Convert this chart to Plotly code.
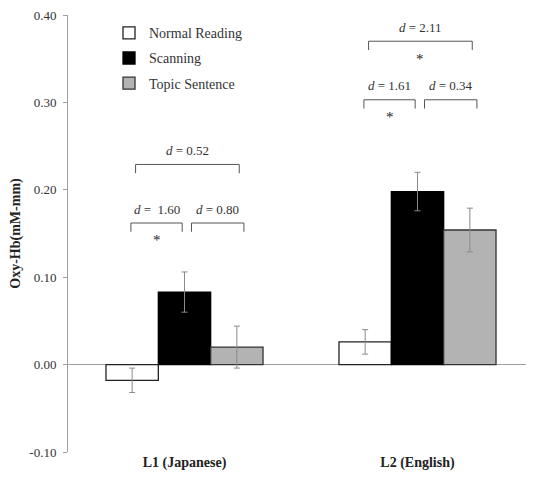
import plotly.graph_objects as go

groups = ["L1 (Japanese)", "L2 (English)"]
series = ["Normal Reading", "Scanning", "Topic Sentence"]
means = {
    "Normal Reading": [-0.018, 0.026],
    "Scanning": [0.083, 0.198],
    "Topic Sentence": [0.020, 0.154],
}
errors = {
    "Normal Reading": [0.014, 0.014],
    "Scanning": [0.023, 0.022],
    "Topic Sentence": [0.024, 0.025],
}
y_ticks = [-0.10, 0.00, 0.10, 0.20, 0.30, 0.40]
y_ticklabels = ["-0.10", "0.00", "0.10", "0.20", "0.30", "0.40"]
colors = {"Normal Reading": "white", "Scanning": "black", "Topic Sentence": "#b3b3b3"}
outlines = {"Normal Reading": "#222222", "Scanning": "black", "Topic Sentence": "#333333"}

# effect size annotations: (group index, pair, label, significant)
effects = [
    (0, "NS", "<i>d</i> =  1.60", True),
    (0, "ST", "<i>d</i> = 0.80", False),
    (0, "NT", "<i>d</i> = 0.52", False),
    (1, "NS", "<i>d</i> = 1.61", True),
    (1, "ST", "<i>d</i> = 0.34", False),
    (1, "NT", "<i>d</i> = 2.11", True),
]
bracket_levels = {(0, "NS"): 0.162, (0, "ST"): 0.162, (0, "NT"): 0.229,
                  (1, "NS"): 0.303, (1, "ST"): 0.303, (1, "NT"): 0.370}
pair_span = {"NS": (-0.23, -0.01), "ST": (0.03, 0.255), "NT": (-0.21, 0.235)}

FONT = "Liberation Serif, Times New Roman, Times, serif"
xpos = list(range(len(groups)))

fig = go.Figure()
for i, s in enumerate(series):
    fig.add_trace(go.Bar(
        name=s, x=xpos, y=means[s],
        marker=dict(color=colors[s], line=dict(color=outlines[s], width=1.3)),
        error_y=dict(type="data", array=errors[s], color="#8a8a8a", thickness=1, width=3),
        legendgroup=s,
    ))

shapes = []
annotations = []
for g, pair, label, sig in effects:
    x0, x1 = pair_span[pair]
    x0 += g
    x1 += g
    yl = bracket_levels[(g, pair)]
    drop = 0.010
    shapes.append(dict(type="path", xref="x", yref="y",
                       path=f"M {x0},{yl - drop} L {x0},{yl} L {x1},{yl} L {x1},{yl - drop}",
                       line=dict(color="#555555", width=1)))
    annotations.append(dict(x=(x0 + x1) / 2, y=yl + 0.016, xref="x", yref="y", text=label,
                            showarrow=False, font=dict(family=FONT, size=13, color="#333333")))
    if sig:
        annotations.append(dict(x=(x0 + x1) / 2, y=yl - 0.020, xref="x", yref="y", text="*",
                                showarrow=False, font=dict(family=FONT, size=15, color="#222222")))

fig.update_layout(
    width=526, height=471,
    margin=dict(l=60, r=0, t=5, b=27),
    paper_bgcolor="white", plot_bgcolor="white",
    barmode="group", bargap=0.326, bargroupgap=0,
    font=dict(family=FONT, size=13, color="#333333"),
    showlegend=True,
    legend=dict(x=0.088, y=0.995, xanchor="left", yanchor="top",
                font=dict(family=FONT, size=14, color="#333333"),
                tracegroupgap=4, itemwidth=30, bgcolor="rgba(0,0,0,0)"),
    shapes=shapes, annotations=annotations,
    xaxis=dict(range=[-0.5, 1.5], tickvals=xpos,
               ticktext=[f"<b>{g}</b>" for g in groups],
               showline=False, showgrid=False, zeroline=False, ticks="",
               tickfont=dict(family=FONT, size=14, color="#222222")),
    yaxis=dict(range=[-0.1, 0.4], tickmode="array", tickvals=y_ticks, ticktext=y_ticklabels,
               ticklabeloverflow="allow", ticklabelstandoff=4,
               showline=True, linecolor="#a0a0a0", linewidth=1,
               ticks="outside", ticklen=4, tickcolor="#a0a0a0",
               showgrid=False, zeroline=True, zerolinecolor="#a0a0a0", zerolinewidth=1,
               tickfont=dict(family=FONT, size=13, color="#333333"),
               title=dict(text="<b>Oxy-Hb(mM-mm)</b>", standoff=8,
                          font=dict(family=FONT, size=14, color="#222222"))),
)

fig.write_html("out.html")
